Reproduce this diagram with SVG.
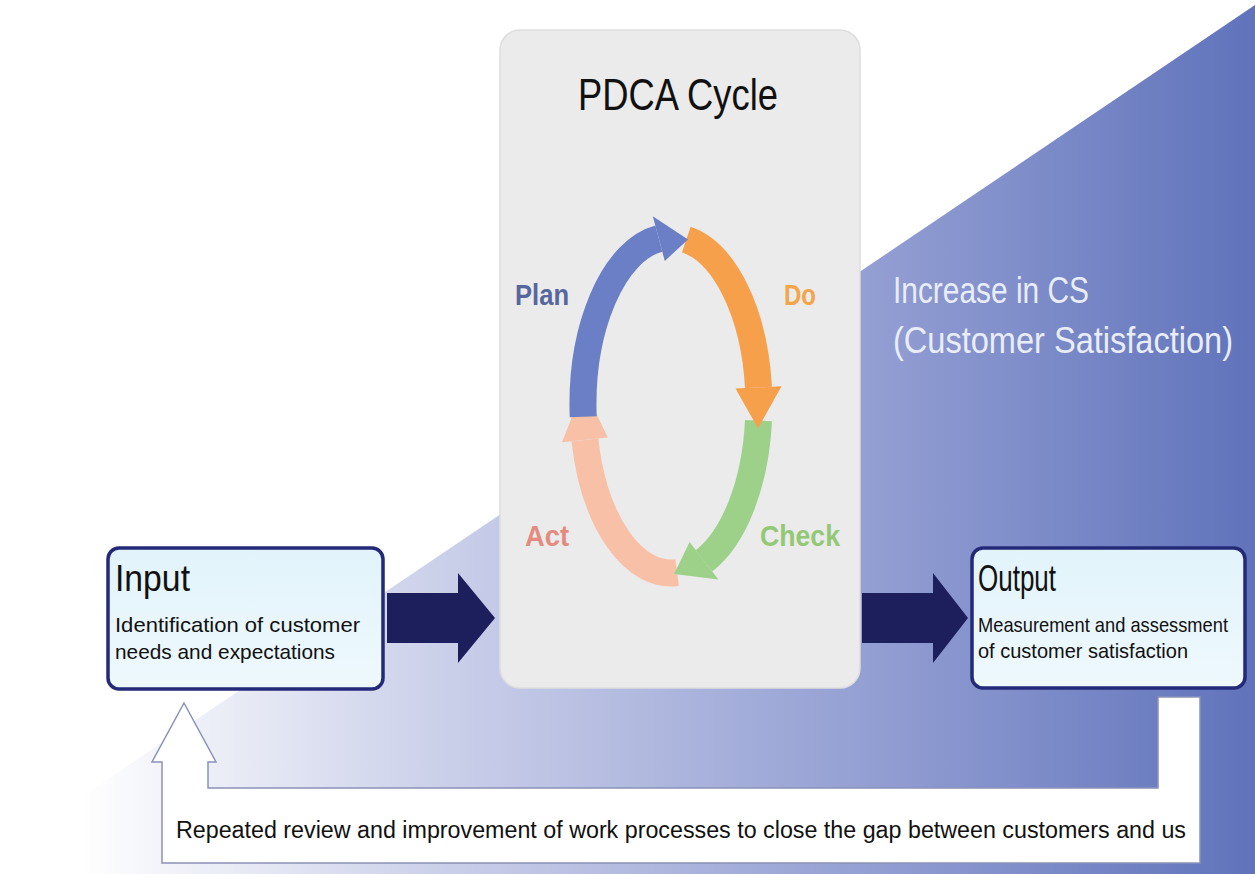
<svg xmlns="http://www.w3.org/2000/svg" width="1255" height="874" viewBox="0 0 1255 874">
<defs>
<linearGradient id="bg" gradientUnits="userSpaceOnUse" x1="80" y1="0" x2="1255" y2="0">
<stop offset="0" stop-color="#ffffff"/>
<stop offset="0.3" stop-color="#ccd1ea"/>
<stop offset="0.7" stop-color="#8f9bd1"/>
<stop offset="1" stop-color="#6073bb"/>
</linearGradient>
<linearGradient id="boxfill" x1="0" y1="0" x2="0" y2="1">
<stop offset="0" stop-color="#e2f3fb"/>
<stop offset="1" stop-color="#eef9fd"/>
</linearGradient>
<style>
.box{fill:url(#boxfill);stroke:#232a78;stroke-width:3.5}
.ttl{font-family:"Liberation Sans",Arial,sans-serif;fill:#111}
.sub{font-family:"Liberation Sans",Arial,sans-serif;fill:#111;font-size:21px}
.lbl{font-family:"Liberation Sans",Arial,sans-serif;font-weight:bold;font-size:30px}
.cs{font-family:"Liberation Sans",Arial,sans-serif;fill:#e9edf9;font-size:37px}
.big{fill:#1d1f5c}
.arc{fill:none;stroke-width:27}
</style>
</defs>
<rect width="1255" height="874" fill="#ffffff"/>
<polygon points="1255,5 1255,874 0,874 0,852" fill="url(#bg)"/>

<g id="connectors">
<polygon class="big" points="387,593 458,593 458,573 495,618 458,663 458,643 387,643"/>
<polygon class="big" points="862,593 933,593 933,573 968,618 933,663 933,643 862,643"/>
<polygon points="184,703 216,762 208,762 208,788 1158,788 1158,697 1200,697 1200,863 162,863 162,762 152,762" fill="#ffffff" stroke="#8a91b8" stroke-width="1.5"/>
<text class="ttl" x="176" y="838" font-size="23" textLength="1010" lengthAdjust="spacingAndGlyphs">Repeated review and improvement of work processes to close the gap between customers and us</text>
</g>

<g id="pdca">
<rect x="500" y="30" width="360" height="658" rx="20" fill="#ebebeb" stroke="#dedede" stroke-width="1.5"/>
<text class="ttl" x="578" y="110" font-size="45" textLength="200" lengthAdjust="spacingAndGlyphs">PDCA Cycle</text>
<g id="act">
<path class="arc" stroke="#f8c0a6" d="M677.1,572.6 A88,168 0 0 1 584.9,439.9"/>
<polygon fill="#f8c0a6" points="562,442.3 607.8,437.5 583.5,387.4"/>
</g>
<g id="check">
<path class="arc" stroke="#9dd18a" d="M758.5,420.6 A88,168 0 0 1 704,560.8"/>
<polygon fill="#9dd18a" points="718.4,579.5 689.6,542 674.1,574"/>
</g>
<g id="do">
<path class="arc" stroke="#f7a04c" d="M686.3,239.6 A88,168 0 0 1 758.5,387.4"/>
<polygon fill="#f7a04c" points="781.5,386.2 735.5,388.6 758.1,428.4"/>
</g>
<g id="plan">
<path class="arc" stroke="#6b7fc6" d="M583.2,416.7 A88,168 0 0 1 658.8,238.6"/>
<polygon fill="#6b7fc6" points="652.8,216.3 664.8,260.9 688,239.6"/>
</g>
<text class="lbl" x="515" y="305" fill="#56679f" textLength="54" lengthAdjust="spacingAndGlyphs">Plan</text>
<text class="lbl" x="784" y="305" fill="#f3a54a" textLength="32" lengthAdjust="spacingAndGlyphs">Do</text>
<text class="lbl" x="760" y="546" fill="#93c877" textLength="80" lengthAdjust="spacingAndGlyphs">Check</text>
<text class="lbl" x="525" y="546" fill="#e48a7e" textLength="44" lengthAdjust="spacingAndGlyphs">Act</text>
</g>

<g id="cs">
<text class="cs" x="893" y="303" textLength="196" lengthAdjust="spacingAndGlyphs">Increase in CS</text>
<text class="cs" x="893" y="353" font-size="32" textLength="340" lengthAdjust="spacingAndGlyphs">(Customer Satisfaction)</text>
</g>

<g id="input">
<rect class="box" x="108" y="548" width="275" height="141" rx="11"/>
<text class="ttl" x="115" y="591" font-size="37" textLength="75" lengthAdjust="spacingAndGlyphs">Input</text>
<text class="sub" x="115" y="632" textLength="245" lengthAdjust="spacingAndGlyphs">Identification of customer</text>
<text class="sub" x="115" y="659" textLength="220" lengthAdjust="spacingAndGlyphs">needs and expectations</text>
</g>

<g id="output">
<rect class="box" x="972" y="548" width="273" height="140" rx="11"/>
<text class="ttl" x="978" y="591" font-size="37" textLength="78" lengthAdjust="spacingAndGlyphs">Output</text>
<text class="sub" x="978" y="632" font-size="18" textLength="250" lengthAdjust="spacingAndGlyphs">Measurement and assessment</text>
<text class="sub" x="978" y="658" textLength="210" lengthAdjust="spacingAndGlyphs">of customer satisfaction</text>
</g>
</svg>
